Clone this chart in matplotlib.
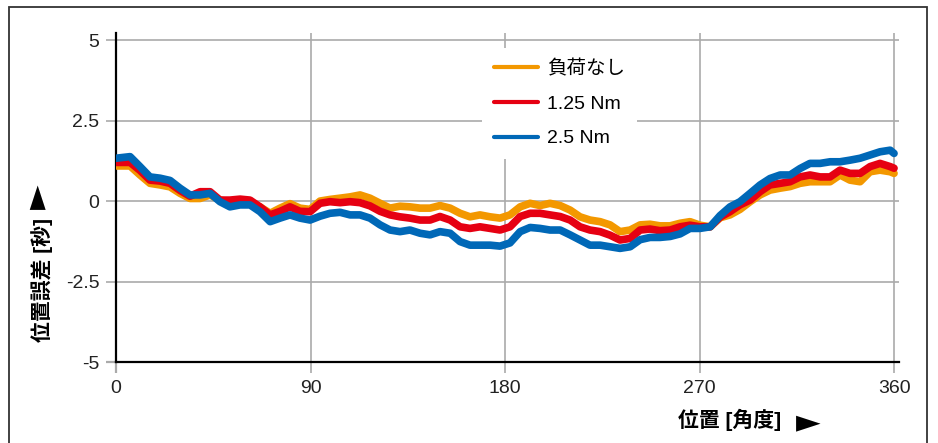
import numpy as np
import matplotlib
matplotlib.use("Agg")
import matplotlib.pyplot as plt
from matplotlib.patches import Rectangle

plt.rcParams['font.family'] = ['Liberation Sans', 'Noto Sans CJK JP', 'DejaVu Sans']

# position [deg]
angle = [0.0, 6.5, 11.1, 15.7, 20.4, 25.0, 29.6, 34.2, 38.9, 43.5, 48.1,
         52.7, 57.4, 62.0, 66.6, 71.3, 75.9, 80.5, 85.1, 89.8, 94.4,
         99.0, 103.7, 108.3, 112.9, 117.5, 122.2, 126.8, 131.4, 136.0, 140.7,
         145.3, 149.9, 154.6, 159.2, 163.8, 168.4, 173.1, 177.7, 182.3, 187.0,
         191.6, 196.2, 200.8, 205.5, 210.1, 214.7, 219.3, 224.0, 228.6, 233.2,
         237.9, 242.5, 247.1, 251.7, 256.4, 261.0, 265.6, 270.2, 274.9, 279.5,
         284.1, 288.7, 293.4, 298.0, 302.6, 307.3, 311.9, 316.5, 321.1, 325.8,
         330.4, 335.0, 339.6, 344.3, 348.9, 353.5, 358.2, 360.0]

# position error [sec]
no_load = [1.09, 1.09, 0.81, 0.55, 0.50, 0.44, 0.24, 0.08, 0.08, 0.19, 0.03,
           -0.02, -0.02, -0.07, -0.18, -0.38, -0.22, -0.08, -0.22, -0.26, 0.00,
           0.05, 0.09, 0.13, 0.19, 0.09, -0.07, -0.22, -0.16, -0.18, -0.22,
           -0.22, -0.14, -0.22, -0.38, -0.49, -0.43, -0.49, -0.53, -0.43, -0.18,
           -0.07, -0.14, -0.07, -0.14, -0.28, -0.49, -0.59, -0.64, -0.74, -0.95,
           -0.90, -0.74, -0.72, -0.77, -0.77, -0.69, -0.64, -0.75, -0.80, -0.52,
           -0.43, -0.26, -0.02, 0.19, 0.34, 0.40, 0.45, 0.55, 0.60, 0.60,
           0.60, 0.81, 0.65, 0.60, 0.91, 0.96, 0.91, 0.86]
load_125 = [1.20, 1.20, 0.95, 0.65, 0.62, 0.55, 0.33, 0.15, 0.29, 0.29, 0.03,
            0.03, 0.06, 0.03, -0.18, -0.43, -0.32, -0.18, -0.32, -0.33, -0.07,
            -0.02, -0.05, -0.02, -0.05, -0.15, -0.32, -0.43, -0.49, -0.53, -0.59,
            -0.59, -0.48, -0.59, -0.80, -0.85, -0.80, -0.85, -0.90, -0.80, -0.48,
            -0.38, -0.38, -0.43, -0.48, -0.59, -0.80, -0.90, -0.95, -1.06, -1.21,
            -1.16, -0.90, -0.87, -0.92, -0.90, -0.80, -0.75, -0.80, -0.80, -0.50,
            -0.33, -0.12, 0.03, 0.29, 0.50, 0.55, 0.60, 0.75, 0.81, 0.75,
            0.75, 0.96, 0.86, 0.86, 1.07, 1.17, 1.07, 1.02]
load_25 = [1.33, 1.38, 1.07, 0.75, 0.71, 0.64, 0.40, 0.19, 0.19, 0.24, -0.02,
           -0.18, -0.12, -0.12, -0.33, -0.64, -0.53, -0.43, -0.53, -0.59, -0.47,
           -0.38, -0.35, -0.43, -0.43, -0.53, -0.74, -0.90, -0.95, -0.90, -1.00,
           -1.05, -0.95, -1.00, -1.26, -1.37, -1.37, -1.37, -1.40, -1.30, -0.95,
           -0.82, -0.85, -0.90, -0.90, -1.05, -1.21, -1.37, -1.37, -1.42, -1.47,
           -1.42, -1.20, -1.13, -1.13, -1.10, -1.02, -0.85, -0.85, -0.80, -0.45,
           -0.18, -0.02, 0.24, 0.50, 0.70, 0.81, 0.81, 1.01, 1.17, 1.17,
           1.22, 1.22, 1.27, 1.33, 1.43, 1.53, 1.58, 1.48]

labels = ['負荷なし', '1.25 Nm', '2.5 Nm']
colors = ['#F39800', '#E60012', '#0068B7']

fig = plt.figure(figsize=(9.38, 4.43), dpi=100)
ax = fig.add_axes([0.1237, 0.1828, 0.8352, 0.7427])

for series, lab, c in zip([no_load, load_125, load_25], labels, colors):
    ax.plot(angle, series, color=c, lw=5.5, label=lab, solid_capstyle='round', zorder=3)

ax.set_xlim(0, 362.5)
ax.set_ylim(-5, 5.22)
ax.set_xticks([0, 90, 180, 270, 360])
ax.set_yticks([-5, -2.5, 0, 2.5, 5])
ax.set_yticklabels(['-5', '-2.5', '0', '2.5', '5'])
ax.grid(True, color='#aaaaaa', lw=1.2)
ax.set_axisbelow(True)
for s in ['top', 'right']:
    ax.spines[s].set_visible(False)
for s in ['left', 'bottom']:
    ax.spines[s].set_linewidth(1.6)
    ax.spines[s].set_color('black')
ax.tick_params(width=1.2, color='#aaaaaa', labelsize=14, labelcolor='#222222')
ax.tick_params(axis='y', length=7, pad=5)
ax.tick_params(axis='x', length=8, pad=5)
# ticks sitting on the spines drawn black
ax.xaxis.get_major_ticks()[0].tick1line.set_color('black')
ax.xaxis.get_major_ticks()[0].tick1line.set_markeredgewidth(1.6)
ax.yaxis.get_major_ticks()[0].tick1line.set_color('black')
ax.yaxis.get_major_ticks()[0].tick1line.set_markeredgewidth(1.6)
ax.yaxis.get_major_ticks()[-1].tick1line.set_color('black')

leg = ax.legend(loc='upper left', bbox_to_anchor=(0.467, 0.953), frameon=True,
                fontsize=14, handlelength=2.3, handletextpad=0.45, labelspacing=0.87,
                borderpad=0.6, borderaxespad=0)
leg.get_frame().set_facecolor('white')
leg.get_frame().set_edgecolor('none')
leg.get_frame().set_alpha(1)
for ln in leg.get_lines():
    ln.set_linewidth(3)

fig.text(42 / 938, 1 - 280 / 443, '位置誤差 [秒]', rotation=90, ha='center', va='center',
         fontsize=15, fontweight='bold')
fig.text(38 / 938, 1 - 197 / 443, '►', rotation=90, ha='center', va='center',
         fontsize=23, family='DejaVu Sans')
fig.text(730 / 938, 1 - 420 / 443, '位置 [角度]', ha='center', va='center',
         fontsize=15, fontweight='bold')
fig.text(808 / 938, 1 - 423 / 443, '►', ha='center', va='center',
         fontsize=23, family='DejaVu Sans')

fig.patches.append(Rectangle((9 / 938, -0.02), 918 / 938, 1.02 - 7 / 443,
                             transform=fig.transFigure, fill=False, edgecolor='#333333', lw=1.3))

fig.savefig('out.png', dpi=100)
